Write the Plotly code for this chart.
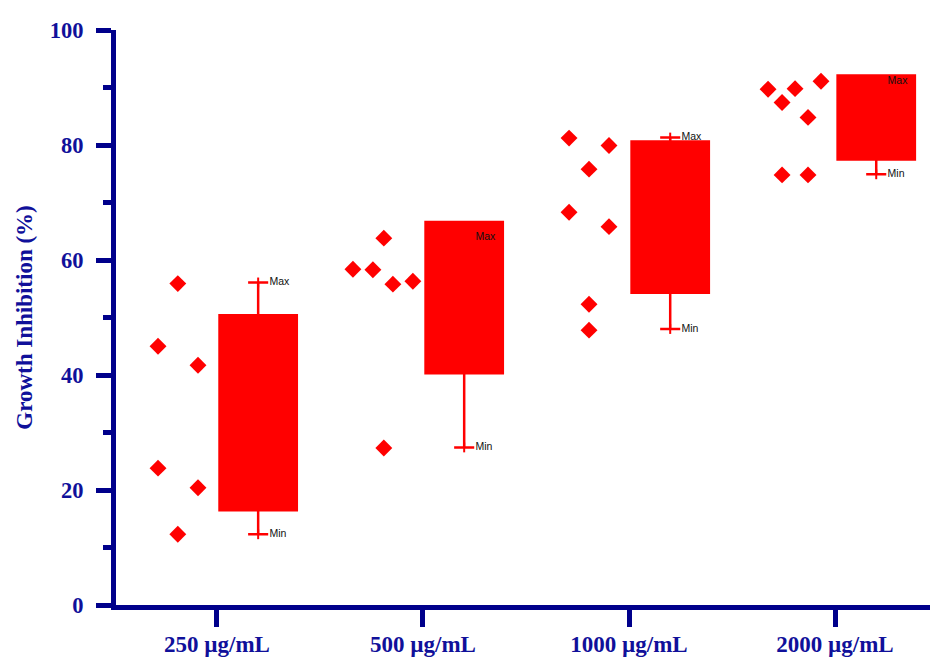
import numpy as np
import plotly.graph_objects as go

categories = ["250 µg/mL", "500 µg/mL", "1000 µg/mL", "2000 µg/mL"]

# individual observations per concentration
values_250 = [55.9, 45.0, 41.7, 23.8, 20.4, 12.3]
values_500 = [63.8, 58.4, 58.3, 55.8, 56.3, 27.3]
values_1000 = [81.2, 79.9, 75.8, 68.3, 65.8, 52.3, 47.8]
values_2000 = [89.7, 89.8, 91.1, 87.4, 84.8, 74.8, 74.8]

# horizontal jitter (category units) of the points, as drawn in the source
jitter_250 = [-0.19, -0.286, -0.092, -0.286, -0.092, -0.19]
jitter_500 = [-0.19, -0.34, -0.243, -0.146, -0.049, -0.19]
jitter_1000 = [-0.291, -0.097, -0.194, -0.291, -0.097, -0.194, -0.194]
jitter_2000 = [-0.325, -0.194, -0.068, -0.257, -0.131, -0.257, -0.131]

# box statistics
box_q1 = [16.5, 40.3, 54.3, 77.5]
box_q3 = [50.4, 66.6, 80.6, 92.1]
whisker_min = [12.3, 27.4, 48.0, 74.9]
whisker_max = [56.1, 63.9, 81.3, 91.1]

groups = [values_250, values_500, values_1000, values_2000]
jitters = [jitter_250, jitter_500, jitter_1000, jitter_2000]

NAVY = "#00008B"
TEXT_NAVY = "#10109a"
RED = "#FF0000"
BOX_OFFSET = 0.2
SERIF = "Liberation Serif, Times New Roman, serif"

fig = go.Figure()

# points
px, py = [], []
for i, (vals, jit) in enumerate(zip(groups, jitters)):
    for v, j in zip(vals, jit):
        px.append(i + j)
        py.append(v)
fig.add_trace(go.Scatter(
    x=px, y=py, mode="markers",
    marker=dict(symbol="diamond", size=13, color=RED, line=dict(width=0)),
    showlegend=False, hoverinfo="y"))

box_x = [i + BOX_OFFSET for i in range(len(categories))]
medians = [float(np.median(g)) for g in groups]

fig.add_trace(go.Box(
    x=box_x, q1=box_q1, median=medians, q3=box_q3,
    lowerfence=whisker_min, upperfence=whisker_max,
    width=0.375, whiskerwidth=0.26,
    fillcolor=RED, line=dict(color=RED, width=2.5),
    boxpoints=False, showlegend=False))

# small vertical marks on whisker caps
fig.add_trace(go.Scatter(
    x=box_x + box_x, y=whisker_max + whisker_min, mode="markers",
    marker=dict(symbol="line-ns-open", size=7, color=RED, line=dict(color=RED, width=2)),
    showlegend=False, hoverinfo="skip"))

# Max / Min labels
lx = [b + 0.055 for b in box_x]
fig.add_trace(go.Scatter(
    x=lx + lx, y=whisker_max + whisker_min, mode="text",
    text=["Max"] * 4 + ["Min"] * 4, textposition="middle right",
    textfont=dict(family="Liberation Sans, Arial, sans-serif", size=10.5, color="#111111"),
    showlegend=False, hoverinfo="skip"))

fig.update_layout(
    width=930, height=658,
    margin=dict(l=116, r=0, t=30, b=53),
    plot_bgcolor="white", paper_bgcolor="white",
    showlegend=False,
    xaxis=dict(
        range=[-0.49, 3.461], tickmode="array", tickvals=list(range(len(categories))),
        ticktext=categories, showgrid=False, zeroline=False, automargin=False,
        showline=True, linecolor=NAVY, linewidth=5,
        ticks="outside", ticklen=17, tickwidth=5, tickcolor=NAVY,
        ticklabelstandoff=-3,
        tickfont=dict(family=SERIF, size=23, color=TEXT_NAVY, weight="bold"),
    ),
    yaxis=dict(
        range=[0, 100], dtick=20, showgrid=False, zeroline=False, automargin=False,
        showline=True, linecolor=NAVY, linewidth=5,
        ticks="outside", ticklen=15, tickwidth=5, tickcolor=NAVY,
        ticklabelstandoff=8,
        minor=dict(dtick=10, ticks="outside", ticklen=8, tickwidth=5, tickcolor=NAVY, showgrid=False),
        tickfont=dict(family=SERIF, size=22.5, color=TEXT_NAVY, weight="bold"),
        title=dict(text="Growth Inhibition (%)", standoff=12,
                   font=dict(family=SERIF, size=23, color=TEXT_NAVY, weight="bold")),
    ),
)

fig.write_html("out.html")
